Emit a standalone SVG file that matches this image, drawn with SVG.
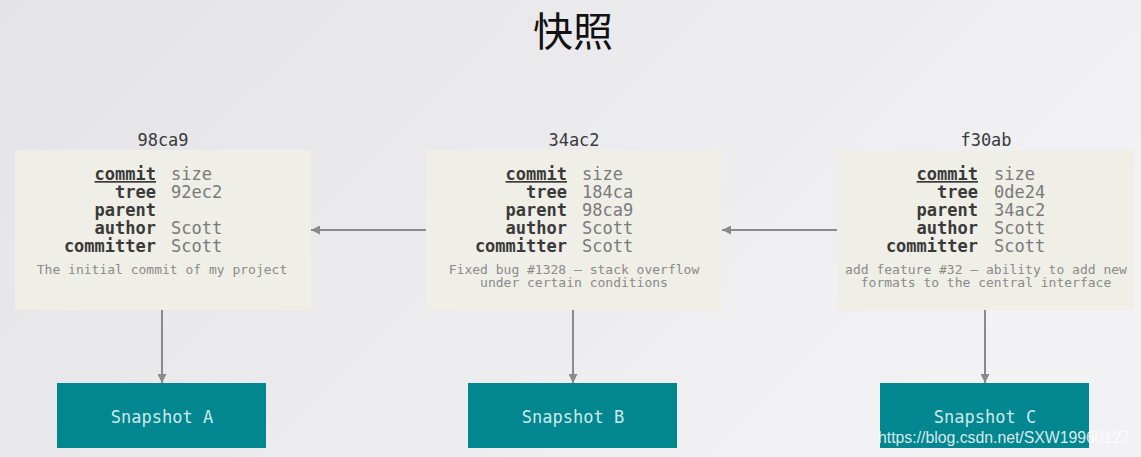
<svg xmlns="http://www.w3.org/2000/svg" width="1141" height="457" viewBox="0 0 1141 457">
<defs>
<linearGradient id="bg" x1="0" y1="0" x2="1" y2="0.4">
<stop offset="0" stop-color="#e4e4e6"/>
<stop offset="0.6" stop-color="#ececee"/>
<stop offset="1" stop-color="#f2f2f4"/>
</linearGradient>
<marker id="ah" viewBox="0 0 10 10" refX="10" refY="5" markerWidth="11" markerHeight="9" markerUnits="userSpaceOnUse" orient="auto">
<path d="M0,0 L10,5 L0,10 z" fill="#8a8a8a"/>
</marker>
</defs>
<style>
.commit{fill:#efeee7}
.snap{fill:#02868f}
.hash{font-family:"DejaVu Sans Mono",monospace;font-size:17px;fill:#3a3a3a;text-anchor:middle}
.k{font-family:"DejaVu Sans Mono",monospace;font-size:17px;font-weight:bold;fill:#3a3a3a;text-anchor:end}
.v{font-family:"DejaVu Sans Mono",monospace;font-size:17px;fill:#7a7a7a}
.msg{font-family:"DejaVu Sans Mono",monospace;font-size:13px;fill:#8a8a8a;text-anchor:middle}
.st{font-family:"DejaVu Sans Mono",monospace;font-size:17px;fill:#cdeaea;text-anchor:middle}
.edge{stroke:#8a8a8a;stroke-width:2;fill:none;marker-end:url(#ah)}
</style>
<rect width="1141" height="457" fill="url(#bg)"/>
<text x="573" y="46" font-family="Noto Sans CJK SC, sans-serif" font-size="40" fill="#111" text-anchor="middle">快照</text>

<g id="connectors">
<line class="edge" x1="426" y1="230" x2="311" y2="230"/>
<line class="edge" x1="837" y1="230" x2="722" y2="230"/>
<line class="edge" x1="162" y1="310" x2="162" y2="383"/>
<line class="edge" x1="573" y1="310" x2="573" y2="383"/>
<line class="edge" x1="985" y1="310" x2="985" y2="383"/>
</g>

<g id="commit-98ca9">
<text class="hash" x="163" y="146">98ca9</text>
<rect class="commit" x="15" y="150" width="296" height="160"/>
<text class="k" x="156" y="180" text-decoration="underline">commit</text><text class="v" x="171" y="180">size</text>
<text class="k" x="156" y="198">tree</text><text class="v" x="171" y="198">92ec2</text>
<text class="k" x="156" y="216">parent</text>
<text class="k" x="156" y="234">author</text><text class="v" x="171" y="234">Scott</text>
<text class="k" x="156" y="252">committer</text><text class="v" x="171" y="252">Scott</text>
<text class="msg" x="162" y="274">The initial commit of my project</text>
</g>

<g id="commit-34ac2">
<text class="hash" x="574" y="146">34ac2</text>
<rect class="commit" x="426" y="150" width="296" height="160"/>
<text class="k" x="567" y="180" text-decoration="underline">commit</text><text class="v" x="582" y="180">size</text>
<text class="k" x="567" y="198">tree</text><text class="v" x="582" y="198">184ca</text>
<text class="k" x="567" y="216">parent</text><text class="v" x="582" y="216">98ca9</text>
<text class="k" x="567" y="234">author</text><text class="v" x="582" y="234">Scott</text>
<text class="k" x="567" y="252">committer</text><text class="v" x="582" y="252">Scott</text>
<text class="msg" x="574" y="274">Fixed bug #1328 – stack overflow</text>
<text class="msg" x="574" y="287">under certain conditions</text>
</g>

<g id="commit-f30ab">
<text class="hash" x="986" y="146">f30ab</text>
<rect class="commit" x="837" y="150" width="297" height="160"/>
<text class="k" x="978" y="180" text-decoration="underline">commit</text><text class="v" x="994" y="180">size</text>
<text class="k" x="978" y="198">tree</text><text class="v" x="994" y="198">0de24</text>
<text class="k" x="978" y="216">parent</text><text class="v" x="994" y="216">34ac2</text>
<text class="k" x="978" y="234">author</text><text class="v" x="994" y="234">Scott</text>
<text class="k" x="978" y="252">committer</text><text class="v" x="994" y="252">Scott</text>
<text class="msg" x="986" y="274">add feature #32 – ability to add new</text>
<text class="msg" x="986" y="287">formats to the central interface</text>
</g>

<g id="snapshot-a">
<rect class="snap" x="57" y="383" width="209" height="65"/>
<text class="st" x="162" y="423">Snapshot A</text>
</g>
<g id="snapshot-b">
<rect class="snap" x="468" y="383" width="209" height="65"/>
<text class="st" x="573" y="423">Snapshot B</text>
</g>
<g id="snapshot-c">
<rect class="snap" x="880" y="383" width="209" height="65"/>
<text class="st" x="985" y="423">Snapshot C</text>
</g>

<text x="878" y="443" font-family="Liberation Sans, sans-serif" font-size="16" fill="#ffffff" fill-opacity="0.85" textLength="252" lengthAdjust="spacingAndGlyphs">https://blog.csdn.net/SXW19960127</text>
</svg>
